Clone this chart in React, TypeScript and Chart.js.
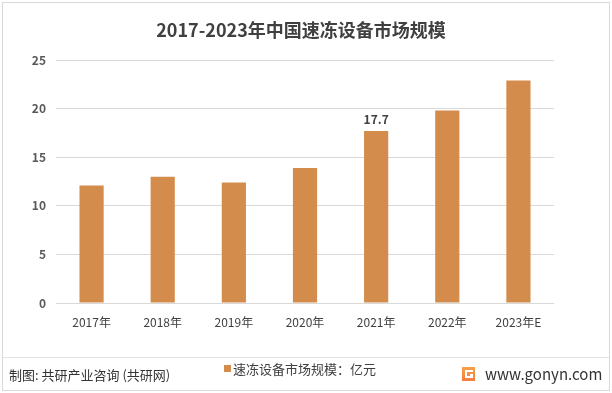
import React, { useEffect, useRef } from "react";
import { Chart, registerables } from "chart.js";

Chart.register(...registerables);

const categories = ["2017年", "2018年", "2019年", "2020年", "2021年", "2022年", "2023年E"];
const marketSize = [12.1, 13.0, 12.4, 13.9, 17.7, 19.8, 22.9];
const labelledIndex = [4];
const yTicks = [0, 5, 10, 15, 20, 25];
const titleText = "2017-2023年中国速冻设备市场规模";
const seriesName = "速冻设备市场规模：亿元";
const sourceText = "制图: 共研产业咨询 (共研网)";
const siteText = "www.gonyn.com";

const FONT = '"Noto Sans CJK SC", "Noto Sans", sans-serif';
const BAR = "#D48C4C";

const decorPlugin = {
  id: "decor",
  beforeDraw(chart: any) {
    const ctx = chart.ctx;
    ctx.save();
    ctx.fillStyle = "#ffffff";
    ctx.fillRect(0, 0, chart.width, chart.height);
    ctx.strokeStyle = "#d9d9d9";
    ctx.lineWidth = 1;
    ctx.strokeRect(2.5, 2.5, chart.width - 5, chart.height - 5);
    ctx.restore();
  },
  afterDraw(chart: any) {
    const ctx = chart.ctx;
    ctx.save();
    // title
    ctx.fillStyle = "#404040";
    ctx.font = `bold 18px ${FONT}`;
    ctx.textAlign = "center";
    ctx.textBaseline = "middle";
    ctx.fillText(titleText, 301, 30);
    // data labels
    const meta = chart.getDatasetMeta(0);
    ctx.font = `bold 12px ${FONT}`;
    ctx.fillStyle = "#404040";
    ctx.textBaseline = "bottom";
    labelledIndex.forEach((i) => {
      const el = meta.data[i];
      ctx.fillText(String(marketSize[i]), el.x, el.y - 6);
    });
    // x labels
    const xs = chart.scales.x;
    ctx.font = `12px ${FONT}`;
    ctx.fillStyle = "#404040";
    ctx.textBaseline = "middle";
    categories.forEach((c, i) => {
      ctx.fillText(c, xs.getPixelForTick(i), 322);
    });
    // separator line
    ctx.strokeStyle = "#e3e3e3";
    ctx.lineWidth = 1;
    ctx.beginPath();
    ctx.moveTo(3, 357.5);
    ctx.lineTo(chart.width - 3, 357.5);
    ctx.stroke();
    // source
    ctx.fillStyle = "#333333";
    ctx.font = `13px ${FONT}`;
    ctx.textAlign = "left";
    ctx.textBaseline = "middle";
    ctx.fillText(sourceText, 9, 375);
    // legend
    ctx.fillStyle = BAR;
    ctx.fillRect(224, 365, 7, 7);
    ctx.fillStyle = "#404040";
    ctx.font = `13px ${FONT}`;
    ctx.fillText(seriesName, 233, 369);
    // logo
    const lx = 462, ly = 367;
    const grad = ctx.createLinearGradient(lx, ly, lx, ly + 14);
    grad.addColorStop(0, "#F7A24A");
    grad.addColorStop(1, "#F47B3E");
    ctx.fillStyle = grad;
    ctx.fillRect(lx, ly, 13, 14);
    ctx.fillStyle = "#ffffff";
    ctx.fillRect(lx + 3, ly + 3, 8, 2);
    ctx.fillRect(lx + 3, ly + 3, 2, 8);
    ctx.fillRect(lx + 3, ly + 9, 8, 2);
    ctx.fillRect(lx + 8, ly + 7, 3, 4);
    ctx.fillStyle = "#333333";
    ctx.font = `15px ${FONT}`;
    ctx.fillText(siteText, 485, 374);
    ctx.restore();
  },
};

export default function App() {
  const ref = useRef<HTMLCanvasElement | null>(null);
  useEffect(() => {
    document.body.style.margin = "0";
    const chart = new Chart(ref.current as HTMLCanvasElement, {
      type: "bar",
      data: {
        labels: categories,
        datasets: [
          {
            label: seriesName,
            data: marketSize,
            backgroundColor: BAR,
            categoryPercentage: 1,
            barPercentage: 0.34,
          },
        ],
      },
      options: {
        animation: false,
        responsive: false,
        layout: { padding: { left: 10, right: 58, top: 60, bottom: 60 } },
        plugins: { legend: { display: false }, tooltip: { enabled: false }, title: { display: false } },
        scales: {
          x: {
            grid: { display: false },
            border: { display: false },
            ticks: { display: false },
            afterFit: (s: any) => { s.height = 30; },
          },
          y: {
            min: 0,
            max: 25,
            afterBuildTicks: (s: any) => { s.ticks = yTicks.map((v) => ({ value: v })); },
            grid: { color: "#d9d9d9", drawTicks: false },
            border: { display: false },
            ticks: { color: "#595959", font: { family: FONT, size: 12, weight: "bold" }, padding: 10 },
            afterFit: (s: any) => { s.width = 46; },
          },
        },
      },
      plugins: [decorPlugin],
    });
    return () => chart.destroy();
  }, []);
  return <canvas ref={ref} width={612} height={393} style={{ display: "block" }} />;
}
